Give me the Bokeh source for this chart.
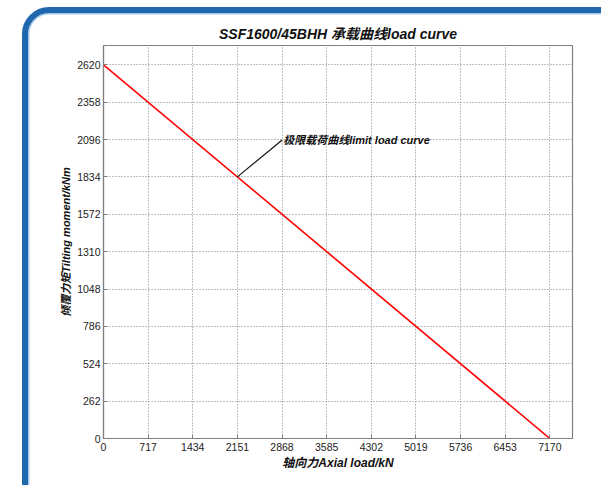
from bokeh.plotting import figure
from bokeh.models import Range1d, FixedTicker, Title, InlineStyleSheet
from bokeh.core.properties import value
from bokeh.embed import file_html
from bokeh.resources import INLINE

# ---- data ----
x_ticks = [0, 717, 1434, 2151, 2868, 3585, 4302, 5019, 5736, 6453, 7170]
y_ticks = [0, 262, 524, 786, 1048, 1310, 1572, 1834, 2096, 2358, 2620]
curve_axial = [0, 7170]
curve_moment = [2620, 0]
note_x0 = [2151]
note_y0 = [1834]
note_x1 = [2870]
note_y1 = [2093]
note_text = ["极限载荷曲线limit load curve"]
title_text = "SSF1600/45BHH 承载曲线load curve"
x_label = "轴向力Axial load/kN"
y_label = "倾覆力矩Tilting moment/kNm"

FONT = "'Liberation Sans', 'Noto Sans CJK SC'"

frame_css = InlineStyleSheet(css="""
:host { overflow: visible !important; }
:host::before {
  content: "";
  position: absolute;
  left: 22px;
  top: 7px;
  width: 1200px;
  height: 1200px;
  box-sizing: border-box;
  border: 6px solid #1f68ad;
  border-radius: 27px;
  box-shadow: inset 0 0 0 1.5px #a6c8ea;
  pointer-events: none;
  z-index: 10;
}
""")

p = figure(width=593, height=477, output_backend="svg", toolbar_location=None,
           x_range=Range1d(0, 7534), y_range=Range1d(0, 2755),
           min_border_left=103, min_border_right=21, min_border_top=45, min_border_bottom=39,
           stylesheets=[frame_css])

p.title = Title(text=title_text, align="center", text_font=FONT, text_font_style="bold italic",
                text_font_size="14px", text_color="#111111", standoff=7)

p.background_fill_color = "white"
p.border_fill_color = "white"
p.outline_line_color = "#808080"
p.outline_line_width = 1.2

for ax in (p.xaxis[0], p.yaxis[0]):
    ax.axis_line_color = "#808080"
    ax.axis_line_width = 1.2
    ax.major_tick_in = 4
    ax.major_tick_out = 0
    ax.major_tick_line_color = "#808080"
    ax.minor_tick_line_color = None
    ax.major_label_text_font = FONT
    ax.major_label_text_font_size = "10.5px"
    ax.major_label_text_color = "#222222"
    ax.axis_label_text_font = FONT
    ax.axis_label_text_font_style = "bold italic"
    ax.axis_label_text_color = "#111111"

p.xaxis[0].ticker = FixedTicker(ticks=x_ticks)
p.yaxis[0].ticker = FixedTicker(ticks=y_ticks)
p.xaxis[0].axis_label = x_label
p.yaxis[0].axis_label = y_label
p.xaxis[0].axis_label_text_font_size = "12px"
p.yaxis[0].axis_label_text_font_size = "11px"
p.xaxis[0].major_label_standoff = 4
p.yaxis[0].major_label_standoff = 3
p.xaxis[0].axis_label_standoff = 2
p.yaxis[0].axis_label_standoff = 2

p.xgrid.ticker = FixedTicker(ticks=x_ticks)
p.ygrid.ticker = FixedTicker(ticks=y_ticks)
for g in (p.xgrid[0], p.ygrid[0]):
    g.grid_line_color = "#808080"
    g.grid_line_dash = "1 2"
    g.grid_line_width = 1

p.line(curve_axial, curve_moment, line_color="#ff0000", line_width=1.6)
p.segment(x0=note_x0, y0=note_y0, x1=note_x1, y1=note_y1, line_color="#111111", line_width=1.2)
p.text(x=note_x1, y=note_y1, text=note_text, x_offset=1, text_baseline="middle", text_align="left",
       text_font=value(FONT), text_font_style="bold italic", text_font_size="11px", text_color="#111111")

open("out.html", "w").write(file_html(p, INLINE))
